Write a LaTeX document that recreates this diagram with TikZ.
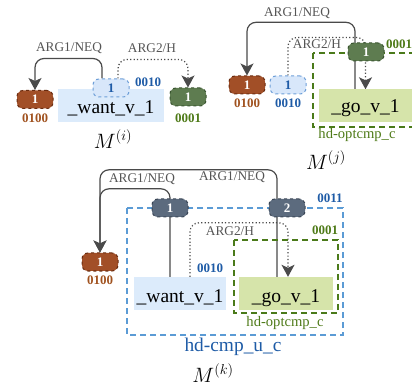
\documentclass[tikz,border=0pt]{standalone}
\usepackage{fontspec}
\setmainfont{Liberation Serif}
\usetikzlibrary{arrows.meta}
\definecolor{brfill}{HTML}{A24F27}
\definecolor{bredge}{HTML}{6A2C10}
\definecolor{brtext}{HTML}{A0521F}
\definecolor{lbfill}{HTML}{D8E7FA}
\definecolor{lbedge}{HTML}{6E9FD8}
\definecolor{bltext}{HTML}{1E5BA6}
\definecolor{gnfill}{HTML}{5E7C50}
\definecolor{gnedge}{HTML}{3A5530}
\definecolor{gntext}{HTML}{4E7A18}
\definecolor{slfill}{HTML}{5C6B7E}
\definecolor{sledge}{HTML}{3A4656}
\definecolor{wantfill}{HTML}{DCEBFB}
\definecolor{gofill}{HTML}{D6E4AA}
\definecolor{gdash}{HTML}{4A7A1A}
\definecolor{bdash}{HTML}{5B9BD5}
\definecolor{arcgray}{HTML}{4A4A4A}
\definecolor{lblgray}{HTML}{555555}
\pgfdeclarelayer{arcs}
\pgfsetlayers{arcs,main}
\tikzset{
  tok/.style={rectangle, rounded corners=6pt, dashed, line width=1pt,
    minimum width=36pt, minimum height=18pt, inner sep=0pt,
    text=white, font=\fontsize{13}{13}\selectfont\bfseries},
  brn/.style={tok, fill=brfill, draw=bredge},
  lbn/.style={tok, fill=lbfill, draw=lbedge, text=bltext},
  grn/.style={tok, fill=gnfill, draw=gnedge},
  sln/.style={tok, fill=slfill, draw=sledge},
  bits/.style={font=\fontsize{13}{13}\selectfont\bfseries, inner sep=0pt},
  pred/.style={rectangle, inner sep=0pt, minimum height=33pt,
    text height=17pt, text depth=0pt, font=\fontsize{19.5}{20}\selectfont},
  arclbl/.style={text=lblgray, font=\fontsize{13.3}{14}\selectfont, inner sep=0pt},
  arc/.style={draw=arcgray, line width=1.2pt, rounded corners=9pt,
    -{Stealth[length=12pt,width=13pt,inset=3pt]}},
  darc/.style={arc, dash pattern=on 1.2pt off 2.2pt},
  gbox/.style={draw=gdash, dash pattern=on 6pt off 4pt, line width=1.3pt},
  bbox/.style={draw=bdash, dash pattern=on 6pt off 4pt, line width=1.3pt},
  mlbl/.style={inner sep=0pt, font=\fontsize{22}{24}\selectfont},
  rule/.style={font=\fontsize{14.6}{15}\selectfont, inner sep=0pt},
}
\begin{document}
\begin{tikzpicture}[x=1pt,y=-1pt]
\clip (0,0) rectangle (412,387);

% ---------- panel (i) ----------
\node[pred, fill=wantfill, minimum width=106pt] (iw) at (111,105.5) {\_want\_v\_1};
\node[brn] (i1) at (35,99.5) {1};
\node[lbn] (i2) at (111,88) {1};
\node[grn] (i3) at (188,97) {1};
\node[bits, text=brtext] (i1b) at (35,118) {0100};
\node[bits, text=bltext] (i2b) at (148,82) {0010};
\node[bits, text=gntext] (i3b) at (188,118) {0001};
\node[arclbl] (i1l) at (69,48) {ARG1/NEQ};
\node[arclbl] (i2l) at (152,48) {ARG2/H};
\node[mlbl] (im) at (113,139) {$M^{(i)}$};
\begin{pgfonlayer}{arcs}
\draw[arc] ([xshift=-9pt]i2.north) -- ++(0,-20) -| (i1.north);
\draw[darc] ([xshift=7pt]i2.north) -- ++(0,-19) -| (i3.north);
\end{pgfonlayer}

% ---------- panel (j) ----------
\draw[gbox] (313,53) rectangle (420,127);
\node[pred, fill=gofill, minimum width=93pt, text height=14pt] (jg) at (365.5,106) {\_go\_v\_1};
\node[brn] (j1) at (247,85) {1};
\node[lbn] (j2) at (288,85) {1};
\node[grn] (j3) at (366,52) {1};
\node[bits, text=brtext] (j1b) at (247,103) {0100};
\node[bits, text=bltext] (j2b) at (288,103) {0010};
\node[bits, text=gntext] (j3b) at (399,44) {0001};
\node[arclbl] (j1l) at (297,13) {ARG1/NEQ};
\node[arclbl] (j2l) at (317,44) {ARG2/H};
\node[rule, text=gntext] (jr) at (357,135) {hd-optcmp\_c};
\node[mlbl] (jm) at (326,160) {$M^{(j)}$};
\begin{pgfonlayer}{arcs}
\draw[arc] ([xshift=-10.5pt]jg.north) -- ++(0,-67) -| (j1.north);
\draw[darc] (j2.north) -- ++(0,-38) -| (jg.north);
\end{pgfonlayer}

% ---------- panel (k) ----------
\draw[bbox] (127,208) rectangle (343,335);
\draw[gbox] (234,240) rectangle (338,313);
\node[pred, fill=wantfill, minimum width=92pt] (kw) at (180,293.5) {\_want\_v\_1};
\node[pred, fill=gofill, minimum width=94pt] (kg) at (286,293.5) {\_go\_v\_1};
\node[brn] (k0) at (100,262) {1};
\node[sln] (k1) at (170,208) {1};
\node[sln] (k2) at (287,208) {2};
\node[bits, text=brtext] (k0b) at (100,280) {0100};
\node[bits, text=bltext] (kwb) at (210,268) {0010};
\node[bits, text=bltext] (kbb) at (330,198) {0011};
\node[bits, text=gntext] (kgb) at (325,230) {0001};
\node[arclbl] (k1l) at (142,179) {ARG1/NEQ};
\node[arclbl] (k2l) at (232,177) {ARG1/NEQ};
\node[arclbl] (k3l) at (230,231) {ARG2/H};
\node[rule, text=gntext] (kr1) at (285,323) {hd-optcmp\_c};
\node[rule, text=bltext, font=\fontsize{19.4}{20}\selectfont] (kr2) at (233,347) {hd-cmp\_u\_c};
\node[mlbl] (km) at (213,373) {$M^{(k)}$};
\begin{pgfonlayer}{arcs}
\draw[arc] ([xshift=-10pt]kw.north) -- ++(0,-88) -| (k0.north);
\draw[arc] ([xshift=-9pt]kg.north) -- ++(0,-107) -| (k0.north);
\draw[darc] ([xshift=10pt]kw.north) -- ++(0,-54) -| ([xshift=2pt]kg.north);
\end{pgfonlayer}
\end{tikzpicture}
\end{document}
